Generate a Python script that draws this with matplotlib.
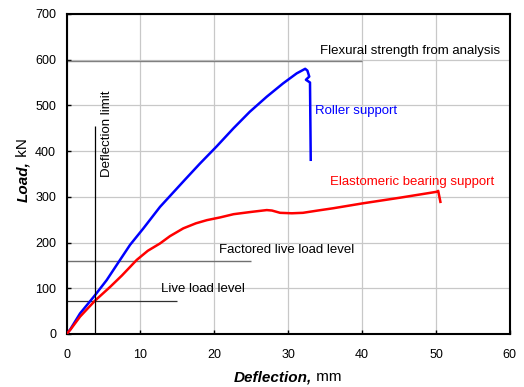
"""Load-deflection curves: roller support vs elastomeric bearing support."""

import matplotlib
matplotlib.use("Agg")
import matplotlib.pyplot as plt

plt.rcParams["font.family"] = ["Liberation Sans", "DejaVu Sans"]

# roller support (blue)
roller_x = [0, 0.5, 1.83, 3.0, 3.86, 5.44, 7.24, 8.6, 10.4, 12.65, 16.0, 18.07,
            20.3, 22.6, 24.8, 27.1, 29.3, 31.15, 32.3, 32.6, 32.85, 32.4, 32.95, 33.05]
roller_y = [0, 10, 45, 68, 85, 118, 162, 195, 231, 278, 337, 373,
            410, 450, 486, 519, 548, 570, 580, 576, 563, 556, 550, 381]

# elastomeric bearing support (red)
elast_x = [0, 0.5, 1.83, 3.86, 5.9, 7.5, 9.5, 11, 12.65, 14, 15.8, 17.5, 19.0,
           20.8, 22.6, 25, 27.1, 27.8, 28.9, 30.5, 32.0, 34, 36.1, 40.2, 45.1,
           50.1, 50.3, 50.6]
elast_y = [0, 9, 38, 73, 103, 128, 162, 182, 198, 214, 231, 242, 249,
           255, 262, 267, 271, 270, 265, 264, 265, 270, 275, 286, 298,
           311, 313, 289]

# reference levels
flexural_strength = 597
factored_live = 160
live_load = 73
deflection_limit = 3.9
deflection_limit_top = 455

x_ticks = [0, 10, 20, 30, 40, 50, 60]
y_ticks = [0, 100, 200, 300, 400, 500, 600, 700]

fig = plt.figure(figsize=(5.24, 3.87), dpi=100)
ax = fig.add_axes([0.127, 0.137, 0.846, 0.827])

ax.grid(True, color="#c8c8c8", lw=0.9, zorder=0)
ax.set_axisbelow(True)

ax.hlines(flexural_strength, 0, 40, color="#808080", lw=1.0, zorder=2)
ax.hlines(factored_live, 0, 25, color="#707070", lw=1.0, zorder=2)
ax.hlines(live_load, 0, 15, color="#303030", lw=0.9, zorder=2)
ax.vlines(deflection_limit, 0, deflection_limit_top, color="black", lw=0.9, zorder=4)

ax.plot(roller_x, roller_y, color="#0000ff", lw=1.8, zorder=3)
ax.plot(elast_x, elast_y, color="#ff0000", lw=1.8, zorder=3)

fs = 9.5
ax.text(34.34, 612, "Flexural strength from analysis", fontsize=fs, va="baseline")
ax.text(33.67, 481, "Roller support", fontsize=fs, color="#0000ff", va="baseline")
ax.text(35.6, 326, "Elastomeric bearing support", fontsize=fs, color="#ff0000", va="baseline")
ax.text(20.68, 178, "Factored live load level", fontsize=fs, va="baseline")
ax.text(12.83, 91, "Live load level", fontsize=fs, va="baseline")
ax.text(5.89, 344, "Deflection limit", fontsize=fs, rotation=90,
        rotation_mode="anchor", ha="left", va="baseline")

ax.set_xlim(0, 60)
ax.set_ylim(0, 700)
ax.set_xticks(x_ticks)
ax.set_yticks(y_ticks)
ax.tick_params(direction="in", length=3, width=1, labelsize=9)
ax.tick_params(axis="x", pad=10.5)
ax.tick_params(axis="y", pad=7.5)
for sp in ax.spines.values():
    sp.set_linewidth(1.5)

# axis titles: bold-italic quantity followed by plain unit
fig.text(0.596, 0.0155, "Deflection,", fontsize=11, fontweight="bold",
         fontstyle="italic", ha="right", va="baseline")
fig.text(0.596, 0.0155, " mm", fontsize=11, ha="left", va="baseline")
fig.text(0.0515, 0.584, "Load,", fontsize=11, fontweight="bold", fontstyle="italic",
         rotation=90, rotation_mode="anchor", ha="right", va="baseline")
fig.text(0.0515, 0.584, " kN", fontsize=11, rotation=90, rotation_mode="anchor",
         ha="left", va="baseline")

fig.savefig("out.png", dpi=100)
